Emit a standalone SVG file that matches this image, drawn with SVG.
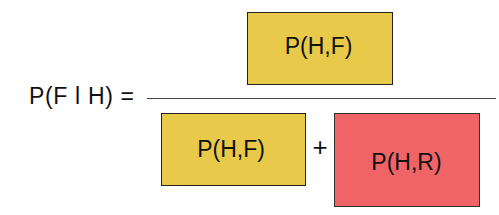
<svg xmlns="http://www.w3.org/2000/svg" width="499" height="215" viewBox="0 0 499 215">
<style>
text{font-family:"Liberation Sans",Arial,sans-serif;font-size:23px;fill:#111}
.y{fill:#E8C94A;stroke:#222;stroke-width:1}
.r{fill:#F06468;stroke:#333;stroke-width:1}
.c{text-anchor:middle}
</style>
<rect width="499" height="215" fill="#fff"/>
<g id="lhs"><text x="29" y="104" textLength="105">P(F l H) =</text></g>
<g id="connectors"><line x1="147" y1="98.5" x2="496" y2="98.5" stroke="#444" stroke-width="1.2"/></g>
<g id="num"><rect class="y" x="247.5" y="12.5" width="145" height="72"/><text class="c" x="318.5" y="53.5">P(H,F)</text></g>
<g id="den1"><rect class="y" x="161.5" y="113.5" width="144" height="72"/><text class="c" x="231" y="157">P(H,F)</text></g>
<g id="plus"><text class="c" x="320" y="156" style="font-size:26px">+</text></g>
<g id="den2"><rect class="r" x="334.5" y="113.5" width="145" height="93"/><text class="c" x="406.5" y="169.5">P(H,R)</text></g>
</svg>
